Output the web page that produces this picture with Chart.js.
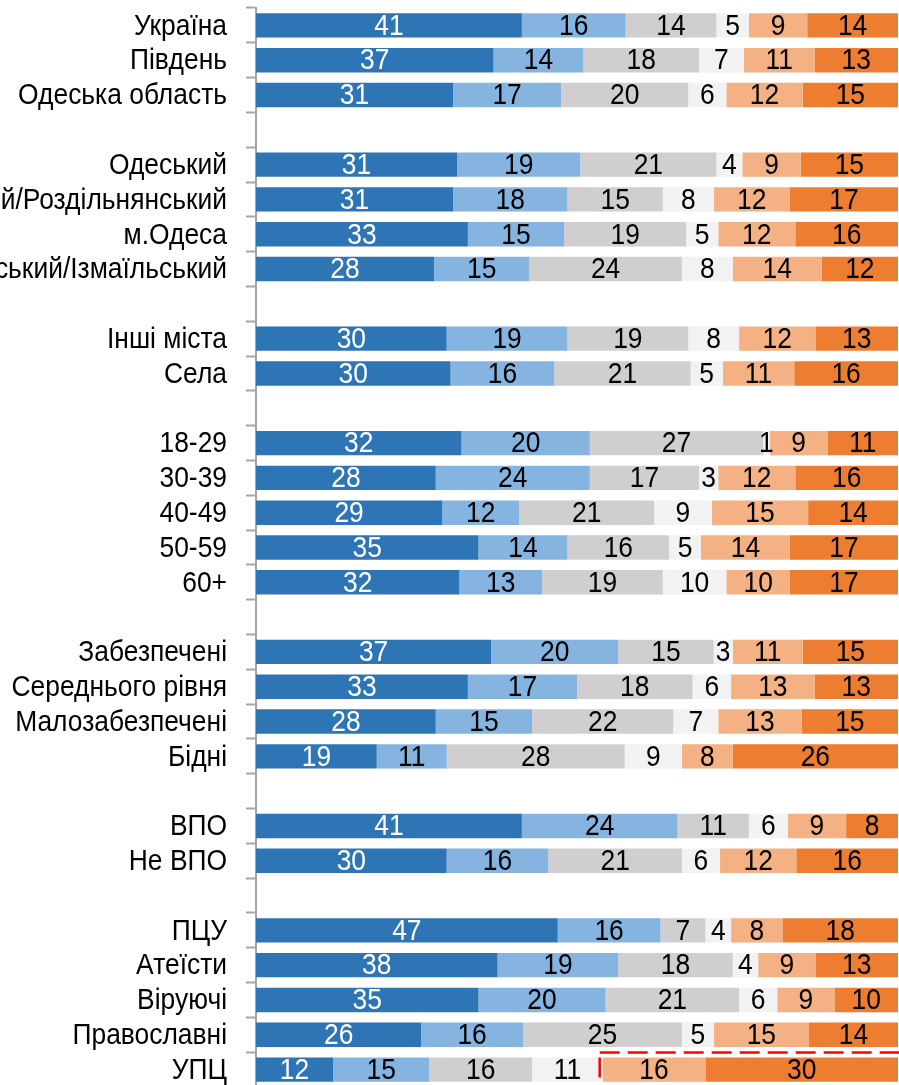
<!DOCTYPE html>
<html>
<head>
<meta charset="utf-8">
<script src="https://cdn.jsdelivr.net/npm/chart.js@4/dist/chart.umd.min.js"></script>
<style>
  html, body { margin: 0; padding: 0; background: #ffffff; overflow: hidden; }
  #wrap { width: 899px; height: 1085px; overflow: hidden; }
  canvas { display: block; }
</style>
</head>
<body>
<div id="wrap"><canvas id="c" width="899" height="1088"></canvas></div>
<script>
// ---- data ----
const categories = [
  'Україна', 'Південь', 'Одеська область', '',
  'Одеський', 'Подільський/Березівський/Роздільнянський', 'м.Одеса', 'Білгород-Дністровський/Болградський/Ізмаїльський', '',
  'Інші міста', 'Села', '',
  '18-29', '30-39', '40-49', '50-59', '60+', '',
  'Забезпечені', 'Середнього рівня', 'Малозабезпечені', 'Бідні', '',
  'ВПО', 'Не ВПО', '',
  'ПЦУ', 'Атеїсти', 'Віруючі', 'Православні', 'УПЦ'
];
const series1 = [41, 37, 31, null, 31, 31, 33, 28, null, 30, 30, null, 32, 28, 29, 35, 32, null, 37, 33, 28, 19, null, 41, 30, null, 47, 38, 35, 26, 12];
const series2 = [16, 14, 17, null, 19, 18, 15, 15, null, 19, 16, null, 20, 24, 12, 14, 13, null, 20, 17, 15, 11, null, 24, 16, null, 16, 19, 20, 16, 15];
const series3 = [14, 18, 20, null, 21, 15, 19, 24, null, 19, 21, null, 27, 17, 21, 16, 19, null, 15, 18, 22, 28, null, 11, 21, null, 7, 18, 21, 25, 16];
const series4 = [5, 7, 6, null, 4, 8, 5, 8, null, 8, 5, null, 1, 3, 9, 5, 10, null, 3, 6, 7, 9, null, 6, 6, null, 4, 4, 6, 5, 11];
const series5 = [9, 11, 12, null, 9, 12, 12, 14, null, 12, 11, null, 9, 12, 15, 14, 10, null, 11, 13, 13, 8, null, 9, 12, null, 8, 9, 9, 15, 16];
const series6 = [14, 13, 15, null, 15, 17, 16, 12, null, 13, 16, null, 11, 16, 14, 17, 17, null, 15, 13, 15, 26, null, 8, 16, null, 18, 13, 10, 14, 30];
const seriesNames = ['1', '2', '3', '4', '5', '6'];
const highlightCategory = 'УПЦ';

// ---- style ----
const colors = ['#2E75B6', '#84B4DF', '#D0CECE', '#F2F2F2', '#F4B183', '#ED7D31'];
const labelColors = ['#FFFFFF', '#000000', '#000000', '#000000', '#000000', '#000000'];
const FONT = "'Liberation Sans', Arial, sans-serif";
const FONT_SIZE = 30;
const SQUEEZE = 0.88;   // condensed look (Arial Narrow-like)

const allSeries = [series1, series2, series3, series4, series5, series6];
// 100% stacked: each row is shown as share of its own total
const rowTotals = categories.map((c, i) => allSeries.reduce((a, s) => a + (s[i] || 0), 0));
const shareSeries = allSeries.map(s => s.map((v, i) => v === null ? null : v / rowTotals[i] * 100));

function drawSqueezed(ctx, text, x, y, align) {
  ctx.save();
  ctx.translate(x, y);
  ctx.scale(SQUEEZE, 1);
  ctx.textAlign = align;
  ctx.fillText(text, 0, 0);
  ctx.restore();
}

const valueLabels = {
  id: 'valueLabels',
  afterDatasetsDraw(chart) {
    const ctx = chart.ctx;
    ctx.save();
    ctx.font = FONT_SIZE + 'px ' + FONT;
    ctx.textBaseline = 'middle';
    chart.data.datasets.forEach((ds, di) => {
      const meta = chart.getDatasetMeta(di);
      const raw = allSeries[di];
      meta.data.forEach((el, i) => {
        const v = raw[i];
        if (v === null || v === undefined) return;
        ctx.fillStyle = labelColors[di];
        drawSqueezed(ctx, String(v), (el.x + el.base) / 2, el.y + 1, 'center');
      });
    });
    ctx.restore();
  }
};

const categoryLabels = {
  id: 'categoryLabels',
  afterDraw(chart) {
    const ctx = chart.ctx;
    const y = chart.scales.y;
    ctx.save();
    ctx.font = FONT_SIZE + 'px ' + FONT;
    ctx.textBaseline = 'middle';
    ctx.fillStyle = '#000000';
    categories.forEach((c, i) => {
      if (!c) return;
      drawSqueezed(ctx, c, y.right - 10 - 19, y.getPixelForTick(i) + 1, 'right');
    });
    ctx.restore();
  }
};

const highlightBox = {
  id: 'highlightBox',
  afterDatasetsDraw(chart) {
    const idx = categories.indexOf(highlightCategory);
    if (idx < 0) return;
    const el = chart.getDatasetMeta(4).data[idx];
    if (!el) return;
    const ctx = chart.ctx;
    const left = el.base - 3;
    const top = el.y - el.height / 2 - 5;
    const right = chart.width + 20;
    const bottom = el.y + el.height / 2 + 5;
    ctx.save();
    ctx.strokeStyle = '#FF0000';
    ctx.lineWidth = 2.5;
    ctx.setLineDash([20, 8]);
    ctx.lineDashOffset = 0;
    ctx.beginPath();
    ctx.moveTo(left, top);
    ctx.lineTo(right, top);
    ctx.stroke();
    // left side: starts with a short gap below the corner
    ctx.lineDashOffset = 23;
    ctx.beginPath();
    ctx.moveTo(left, top);
    ctx.lineTo(left, bottom + 20);
    ctx.stroke();
    ctx.restore();
  }
};

new Chart(document.getElementById('c'), {
  type: 'bar',
  data: {
    labels: categories,
    datasets: shareSeries.map((s, i) => ({
      label: seriesNames[i],
      data: s,
      backgroundColor: colors[i],
      borderWidth: 0,
      barPercentage: 0.7,
      categoryPercentage: 1.0
    }))
  },
  options: {
    indexAxis: 'y',
    responsive: false,
    animation: false,
    devicePixelRatio: 1,
    layout: { padding: { top: 8, right: 1, bottom: 1, left: 0 } },
    plugins: { legend: { display: false }, tooltip: { enabled: false } },
    scales: {
      x: {
        stacked: true,
        display: false,
        min: 0,
        max: 100
      },
      y: {
        stacked: true,
        afterFit(scale) {
          scale.width = 256;
          scale.paddingTop = 0;
          scale.paddingBottom = 0;
        },
        grid: {
          display: true,
          drawOnChartArea: false,
          drawTicks: true,
          tickLength: 10,
          tickWidth: 2,
          color: '#A6A6A6',
          offset: true
        },
        border: { display: true, color: '#A6A6A6', width: 2 },
        ticks: { display: false, autoSkip: false }
      }
    }
  },
  plugins: [valueLabels, highlightBox, categoryLabels]
});
</script>
</body>
</html>
